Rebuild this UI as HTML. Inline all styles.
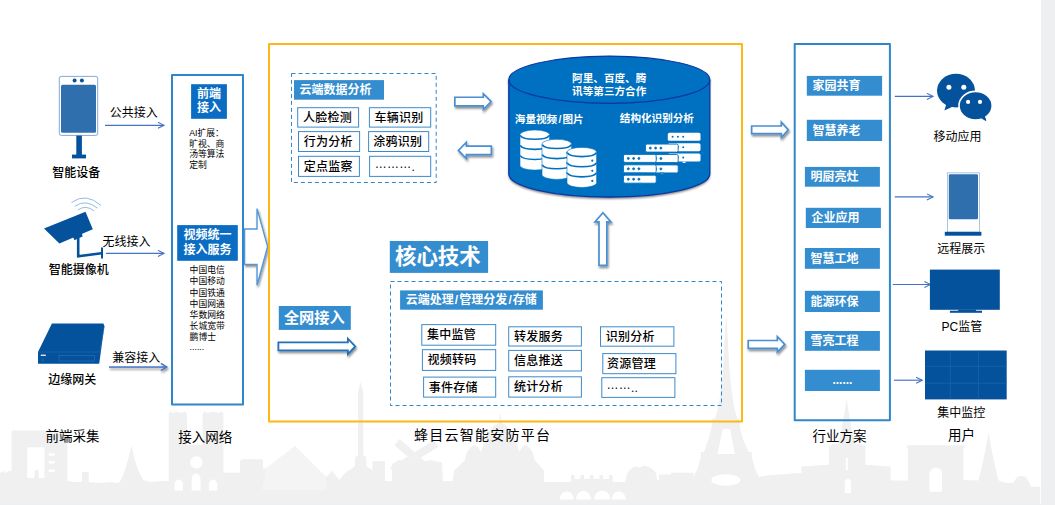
<!DOCTYPE html>
<html lang="zh-CN">
<head>
<meta charset="utf-8">
<title>蜂目云智能安防平台</title>
<style>
html,body{margin:0;padding:0;background:#eeeff1;}
body{width:1055px;height:505px;overflow:hidden;position:relative;font-family:"Liberation Sans","Noto Sans CJK SC",sans-serif;}
#slide{position:absolute;left:0;top:0;width:1041px;height:504px;background:#fff;overflow:hidden;}
svg{position:absolute;left:0;top:0;}
svg text{font-family:"Liberation Sans","Noto Sans CJK SC",sans-serif;}
.k{fill:#000;font-size:12px;font-weight:500;}
.k2{fill:#000;font-size:12px;font-weight:400;}
.cap{fill:#000;font-size:13.5px;font-weight:400;}
.w{fill:#fff;font-size:12px;font-weight:700;}
.sm{fill:#000;font-size:8.8px;font-weight:400;}
.it{fill:#000;font-size:12px;font-weight:500;letter-spacing:0.25px;}
.cy{fill:#fff;font-size:10.6px;font-weight:700;}
</style>
</head>
<body>
<div id="slide">
<svg width="1041" height="504" viewBox="0 0 1041 504">
<defs>
<filter id="sh" x="-20%" y="-30%" width="140%" height="170%">
<feGaussianBlur in="SourceAlpha" stdDeviation="1.1"/>
<feOffset dx="0.6" dy="1.6" result="o"/>
<feComponentTransfer><feFuncA type="linear" slope="0.45"/></feComponentTransfer>
<feMerge><feMergeNode/><feMergeNode in="SourceGraphic"/></feMerge>
</filter>
<marker id="ah" viewBox="0 0 10 10" refX="9" refY="5" markerWidth="7.6" markerHeight="7.6" orient="auto" markerUnits="userSpaceOnUse">
<path d="M1,1 L9,5 L1,9" fill="none" stroke="#4472c4" stroke-width="1.4"/>
</marker>
<filter id="sh2" x="-10%" y="-10%" width="120%" height="130%">
<feGaussianBlur in="SourceAlpha" stdDeviation="1.3"/>
<feOffset dx="0" dy="2" result="o"/>
<feComponentTransfer><feFuncA type="linear" slope="0.5"/></feComponentTransfer>
<feMerge><feMergeNode/><feMergeNode in="SourceGraphic"/></feMerge>
</filter>
</defs>

<!-- SKYLINE -->
<g id="skyline" fill="#f0f0f0">
<path d="M0,504 L0,473 L3,471 L6,473 L9,471 L11.6,471 L11.6,431.5 L12.6,430.6 L66.4,430.6 L67.4,431.5 L67.4,481 L75,482 L82,482 L82,472 L88.7,472 L88.7,482 L100,483 L110,482 L118,483 L121,480
L125,470 L128.5,458 L131.4,445.6 L134.3,458 L138,470 L143.3,480 L150,482 L160,481 L168.7,481
L168.7,414 L170,411.4 L173,413 L177,411.4 L181,413 L185,411.4 L187,414 L187,444.7 L202.6,444.7 L202.6,414 L204,411.4 L208,413 L213,411.4 L218,413 L222,411.4 L223.4,414 L223.4,472.8
L240,472.8 L240,460.5 L243,459.3 L262,459.3 L263,460.5 L263,468.6 L266,468.6 L295.1,445.7 L326.3,477 L332,470.7 L339.4,480 L344,474 L349,470 L352,468.6 L355,466 L355,457 L358,455.5 L358,392 L360.6,382 L363.3,392 L363.3,455.5 L366.4,457 L366.4,466 L369.5,468.6 L372.6,470
L372.6,461.3 L385,461.3 L385,481 L392,481 L392,464 L399,460 L408,462.4 L421,462.4 L430,460 L442,462.4 L443,481 L452.7,481 L454,470.7 L459,466 L465,460 L467,452 L470.5,447.5 L474.3,444.7 L478,447.5 L481,452 L483,446 L486,438 L490,430 L495,425 L499.4,422.5 L499.9,413.5 L500.7,413.5 L501.2,422.5 L505.6,425 L510.6,430 L514.6,438 L517.6,446 L519.5,452 L521.5,447.5 L525.2,444.7 L529,447.5 L532.5,452 L534.5,460 L540,466 L544,470.7 L544,482 L571,482
L571,475 L574.5,475 L574.5,479 L580.5,479 L580.5,475 L584,475 L584,479 L590,479 L590,475 L593.5,475 L593.5,479 L599.5,479 L599.5,475 L603,475 L603,479 L609,479 L609,475 L612.6,475 L612.6,482 L625,482
L627,474 L630,469.5 L635,466.5 L640,467.5 L644,465.5 L649,467 L653,469.5 L656,473 L657,480 L659,480 L659,474.5 L670.7,474.5 L670.7,472.8 L693.5,472.8 L693.5,477
L697.5,469 L700.8,457 L700.8,452 L704,452 L708.2,440 L711.2,429 L712.3,421.5 L712.3,418.7 L715,418.7 L718,408 L719.5,400 L721.5,385 L723.2,365 L724.4,343 L725.3,328 L725.7,318 L726.7,318 L727.1,328 L728,343 L729.2,365 L730.9,385 L732.9,400 L734.4,408 L737.4,418.7 L739.3,418.7 L739.3,421.5 L740.3,429 L743.3,440 L748.6,452 L751.8,452 L751.8,457 L755,469 L759,477
L770,475 L780,474.5 L792,473.5 L801.4,473 L801.4,466.5 L829,464.8 L829,446 L833,444 L838,444 L841,432 L843.2,420 L845.5,406 L846.6,398.8 L847.7,406 L850,420 L852.2,432 L855.2,444 L861,444 L865.4,446 L865.4,464.8 L890.6,466.5 L890.6,480.4 L905,480.4 L908,480.4
L908,449 L906.8,448 L906.8,445.3 L964.6,445.3 L964.6,448 L963.4,449 L963.4,480 L978.5,480.4 L982,466 L985.5,449 L988.5,432.7 L991.5,449 L995,466 L998.6,480.4 L1006,483 L1013,483 L1017,477 L1021,475.8 L1026,477 L1030,484 L1031,486.7 L1040.2,486.7 L1040.2,504 L0,504 Z"/>
<g transform="translate(414.2,457.2)"><rect x="-23" y="-4" width="46" height="8" transform="rotate(41.5)"/><rect x="-26" y="-4" width="52" height="8" transform="rotate(-32)"/></g>
</g>
<g fill="#fff">
<rect x="27.3" y="447.3" width="17.1" height="30.7"/>
<rect x="48.6" y="453.3" width="6" height="2.5"/><rect x="48.6" y="461" width="6" height="2.5"/><rect x="48.6" y="469.5" width="6" height="2.5"/>
<circle cx="196.4" cy="462.4" r="6.2"/>
<path d="M174.5,490.4 L174.5,484.5 A4.2,5 0 0 1 182.9,484.5 L182.9,490.4 Z"/>
<path d="M191.6,490.4 L191.6,479.5 A4.45,6 0 0 1 200.5,479.5 L200.5,490.4 Z"/>
<path d="M208.9,490.4 L208.9,484.5 A4.15,5 0 0 1 217.2,484.5 L217.2,490.4 Z"/>
<path d="M559.8,499.4 A7,8 0 0 1 573.8,499.4 Z"/><path d="M576,499.4 A7.5,8.5 0 0 1 591,499.4 Z"/><path d="M594.2,499.4 A8,9 0 0 1 610.2,499.4 Z"/><path d="M611.8,499.4 A7,8 0 0 1 625.8,499.4 Z"/>
<ellipse cx="725.8" cy="480" rx="14.5" ry="5.8"/>
<path d="M722.7,429 L730,429 L735,454 L717.5,454 Z"/>
<path d="M929.5,491.7 L929.5,474 A6.25,6.2 0 0 1 942,474 L942,491.7 Z"/>
<path d="M844.8,493 L844.8,482.5 A3.1,3.6 0 0 1 851,482.5 L851,493 Z"/>
<rect x="845.8" y="457.8" width="2" height="12.6"/>
</g>
<g fill="#f0f0f0"><rect x="34.5" y="470" width="4.2" height="8"/></g>
<path d="M266,468.6 L295.1,445.7 L326.3,477 L326.3,490 L262,490 Z" fill="#fff" opacity="0.25"/>
<!-- FRAMES -->
<polygon points="244.6,228.95 257.05,228.95 257.05,208.6 267.6,246.65 257.05,285.3 257.05,264.35 244.6,264.35" fill="#fff" stroke="#5496d6" stroke-width="1.4" stroke-linejoin="miter" filter="url(#sh)"/>
<rect x="269" y="44" width="473" height="377.5" fill="none" stroke="#fcb813" stroke-width="2" stroke-linejoin="round"/>
<rect x="172" y="75" width="71" height="329.5" fill="none" stroke="#2f86ca" stroke-width="2" stroke-linejoin="round"/>
<rect x="794.7" y="44" width="95.2" height="376.3" fill="none" stroke="#2f86ca" stroke-width="2" stroke-linejoin="round"/>

<!-- LEFT -->
<g id="left">
<!-- smart device -->
<rect x="59.3" y="76.4" width="38.4" height="59" rx="2" fill="#fff" stroke="#4f81c5" stroke-width="0.7"/>
<rect x="61" y="84.8" width="35" height="48" rx="1.5" fill="#2f6fae"/>
<circle cx="74.6" cy="80.6" r="2" fill="#05529c"/><circle cx="81.9" cy="80.6" r="2" fill="#05529c"/>
<rect x="76.3" y="135.6" width="5.6" height="19.4" fill="#05529c"/>
<rect x="72" y="154.6" width="14" height="3.8" fill="#05529c"/>
<text class="k" x="76.3" y="176.9" text-anchor="middle">智能设备</text>
<text class="k2" x="133.7" y="117.3" text-anchor="middle">公共接入</text>
<line x1="105" y1="125.3" x2="164" y2="125.3" stroke="#4472c4" stroke-width="1.15" marker-end="url(#ah)"/>
<!-- camera -->
<g fill="none" stroke="#7aa7d8" stroke-width="0.8">
<path d="M71.5,202.5 Q86,192 101,205.5"/>
<path d="M74.8,206.3 Q86,198.5 97.5,208.2"/>
<path d="M78,209.8 Q86,204.5 94,210.8"/>
</g>
<polygon points="44,228.6 85.5,211.8 92.8,229.2 59.4,243.5" fill="#05529c"/>
<polygon points="73,236.8 81.8,233.2 82.6,236.6 74.4,240.2" fill="#05529c"/>
<polyline points="78.2,238 78.2,256.2 101.5,253.2" fill="none" stroke="#05529c" stroke-width="2.6"/>
<line x1="102" y1="247.4" x2="102" y2="258.6" stroke="#05529c" stroke-width="2"/>
<text class="k2" x="126.5" y="246.3" text-anchor="middle">无线接入</text>
<line x1="106" y1="253.4" x2="164" y2="253.4" stroke="#4472c4" stroke-width="1.15" marker-end="url(#ah)"/>
<text class="k" x="78.8" y="274" text-anchor="middle">智能摄像机</text>
<!-- gateway -->
<polygon points="38,352 51.9,323.4 103.4,323.4 104.4,326 99.2,363.8 38,363.8" fill="#05529c"/>
<path d="M38,352 L99.6,352 L104.3,326" fill="none" stroke="#2f6fb5" stroke-width="0.5"/>
<rect x="59" y="355.4" width="35.6" height="5.6" fill="none" stroke="#3a78bd" stroke-width="0.5"/>
<rect x="40.8" y="354.6" width="5" height="1.4" fill="#dfe8f3"/>
<circle cx="42.6" cy="360" r="0.9" fill="none" stroke="#3a78bd" stroke-width="0.4"/>
<text class="k2" x="136.2" y="362.3" text-anchor="middle">兼容接入</text>
<g filter="url(#sh)"><rect x="109" y="366.3" width="57" height="1.5" fill="#4472c4"/><path d="M160.8,363.4 L166.8,367 L160.8,370.6" fill="none" stroke="#4472c4" stroke-width="1.4"/></g>
<text class="k" x="72.2" y="384" text-anchor="middle">边缘网关</text>
<text class="cap" x="72.5" y="440.5" text-anchor="middle">前端采集</text>
</g>
<!-- ACCESS -->
<g id="access">
<rect x="191.1" y="84.2" width="35.8" height="34.6" fill="#0a6dc3"/>
<text class="w" x="209" y="98" text-anchor="middle">前端</text>
<text class="w" x="209" y="112.4" text-anchor="middle">接入</text>
<text class="sm" x="189.2" y="135.8">AI扩展：</text>
<text class="sm" x="189.2" y="146.5">旷视、商</text>
<text class="sm" x="189.2" y="157.2">汤等算法</text>
<text class="sm" x="189.2" y="167.9">定制</text>
<rect x="177.2" y="225.1" width="60.6" height="35.7" fill="#0a6dc3"/>
<text class="w" x="207.4" y="239.3" text-anchor="middle">视频统一</text>
<text class="w" x="207.4" y="254.3" text-anchor="middle">接入服务</text>
<text class="sm" x="189.6" y="273.3">中国电信</text>
<text class="sm" x="189.6" y="284.4">中国移动</text>
<text class="sm" x="189.6" y="295.5">中国铁通</text>
<text class="sm" x="189.6" y="306.6">中国网通</text>
<text class="sm" x="189.6" y="317.7">华数网络</text>
<text class="sm" x="189.6" y="328.8">长城宽带</text>
<text class="sm" x="189.6" y="339.9">鹏博士</text>
<text class="sm" x="189.6" y="350">......</text>
<text class="cap" x="205.3" y="441.5" text-anchor="middle">接入网络</text>
</g>
<!-- CLOUD -->
<g id="cloud">
<rect x="291.5" y="73.5" width="144.7" height="109" fill="none" stroke="#2f86ca" stroke-width="1" stroke-dasharray="4 3"/>
<rect x="294" y="80.1" width="90" height="19.6" fill="#348dcf"/>
<text class="w" x="299.6" y="94.2">云端数据分析</text>
<rect x="297.7" y="107.7" width="60.9" height="19.4" fill="#fff" stroke="#3d8acb" stroke-width="1"/><text class="it" x="302.9" y="121.8">人脸检测</text>
<rect x="369.4" y="107.7" width="61.3" height="19.4" fill="#fff" stroke="#3d8acb" stroke-width="1"/><text class="it" x="374.6" y="121.8">车辆识别</text>
<rect x="298.5" y="131.6" width="61.1" height="19.9" fill="#fff" stroke="#3d8acb" stroke-width="1"/><text class="it" x="303.7" y="145.9">行为分析</text>
<rect x="368.6" y="131.6" width="60.1" height="19.9" fill="#fff" stroke="#3d8acb" stroke-width="1"/><text class="it" x="373.2" y="145.9">涂鸦识别</text>
<rect x="298.5" y="156.3" width="60.9" height="20.1" fill="#fff" stroke="#3d8acb" stroke-width="1"/><text class="it" x="303.7" y="170.8">定点监察</text>
<rect x="369.6" y="156.3" width="61.1" height="20.1" fill="#fff" stroke="#3d8acb" stroke-width="1"/><text class="it" x="374.8" y="170.8"><tspan dy="-3.2">………</tspan><tspan dy="3.2">.</tspan></text>
<polygon points="454.85,97.25 483.35,97.25 483.35,93.71 491.11,101.60 483.35,109.48 483.35,105.95 454.85,105.95" fill="#fff" stroke="#4a8fd3" stroke-width="1.7" filter="url(#sh)"/>
<polygon points="491.35,146.10 466.35,146.10 466.35,142.31 458.39,150.40 466.35,158.49 466.35,154.70 491.35,154.70" fill="#fff" stroke="#4a8fd3" stroke-width="1.7" filter="url(#sh)"/>
<g filter="url(#sh2)">
<path d="M508.8,79.7 L508.8,174 A100.5,23 0 0 0 709.8,174 L709.8,79.7 Z" fill="#0070c0"/>
<ellipse cx="609.3" cy="79.7" rx="100.5" ry="23.6" fill="#0070c0" stroke="#0b37a4" stroke-width="1.2"/>
</g>
<path d="M508.8,79.7 L508.8,174 A100.5,23 0 0 0 709.8,174 L709.8,79.7" fill="none" stroke="#0b37a4" stroke-width="1.3"/>
<text class="cy" x="609.2" y="82" text-anchor="middle">阿里、百度、腾</text>
<text class="cy" x="609.2" y="94.6" text-anchor="middle">讯等第三方合作</text>
<text class="cy" x="514.8" y="123.4">海量视频<tspan dx="1.2">/</tspan><tspan dx="1.2">图片</tspan></text>
<text class="cy" x="619.8" y="122.4">结构化识别分析</text>
<g><path d="M520.0,134.7 A14.8,4.7 0 0 1 549.6,134.7 L549.6,165.4 A14.8,4.7 0 0 1 520.0,165.4 Z" fill="#fff" stroke="#0070c0" stroke-width="0.6"/><path d="M520.2,135.3 A14.8,4.7 0 0 0 549.4,135.3" fill="none" stroke="#0070c0" stroke-width="1.6"/><path d="M520.2,145.4 A14.8,4.7 0 0 0 549.4,145.4" fill="none" stroke="#0070c0" stroke-width="1.6"/><path d="M520.2,155.5 A14.8,4.7 0 0 0 549.4,155.5" fill="none" stroke="#0070c0" stroke-width="1.6"/><circle cx="545.3" cy="143.3" r="1.1" fill="#0070c0"/><circle cx="545.3" cy="153.4" r="1.1" fill="#0070c0"/><circle cx="545.3" cy="163.5" r="1.1" fill="#0070c0"/></g>
<g><path d="M542.0,144.0 A14.8,4.7 0 0 1 571.6,144.0 L571.6,174.7 A14.8,4.7 0 0 1 542.0,174.7 Z" fill="#fff" stroke="#0070c0" stroke-width="0.6"/><path d="M542.2,144.6 A14.8,4.7 0 0 0 571.4,144.6" fill="none" stroke="#0070c0" stroke-width="1.6"/><path d="M542.2,154.7 A14.8,4.7 0 0 0 571.4,154.7" fill="none" stroke="#0070c0" stroke-width="1.6"/><path d="M542.2,164.8 A14.8,4.7 0 0 0 571.4,164.8" fill="none" stroke="#0070c0" stroke-width="1.6"/><circle cx="567.3" cy="152.6" r="1.1" fill="#0070c0"/><circle cx="567.3" cy="162.7" r="1.1" fill="#0070c0"/><circle cx="567.3" cy="172.8" r="1.1" fill="#0070c0"/></g>
<g><path d="M567.0,152.1 A14.8,4.7 0 0 1 596.6,152.1 L596.6,182.8 A14.8,4.7 0 0 1 567.0,182.8 Z" fill="#fff" stroke="#0070c0" stroke-width="0.6"/><path d="M567.2,152.7 A14.8,4.7 0 0 0 596.4,152.7" fill="none" stroke="#0070c0" stroke-width="1.6"/><path d="M567.2,162.8 A14.8,4.7 0 0 0 596.4,162.8" fill="none" stroke="#0070c0" stroke-width="1.6"/><path d="M567.2,172.9 A14.8,4.7 0 0 0 596.4,172.9" fill="none" stroke="#0070c0" stroke-width="1.6"/><circle cx="592.3" cy="160.7" r="1.1" fill="#0070c0"/><circle cx="592.3" cy="170.8" r="1.1" fill="#0070c0"/><circle cx="592.3" cy="180.9" r="1.1" fill="#0070c0"/></g>
<rect x="667.8" y="132.8" width="32.7" height="8" rx="1.6" fill="#fff"/><circle cx="672.6" cy="136.8" r="1" fill="#0070c0"/><circle cx="677.9" cy="136.8" r="1" fill="#0070c0"/><circle cx="683.2" cy="136.8" r="1" fill="#0070c0"/><rect x="667.8" y="143.20000000000002" width="32.7" height="8" rx="1.6" fill="#fff"/><circle cx="672.6" cy="147.2" r="1" fill="#0070c0"/><circle cx="677.9" cy="147.2" r="1" fill="#0070c0"/><circle cx="683.2" cy="147.2" r="1" fill="#0070c0"/><rect x="667.8" y="153.60000000000002" width="32.7" height="8" rx="1.6" fill="#fff"/><circle cx="672.6" cy="157.6" r="1" fill="#0070c0"/><circle cx="677.9" cy="157.6" r="1" fill="#0070c0"/><circle cx="683.2" cy="157.6" r="1" fill="#0070c0"/><rect x="682.6" y="161.7" width="3" height="1.2" fill="#fff"/>
<g stroke="#0070c0" stroke-width="0.9"><rect x="645.5" y="144.1" width="32.7" height="8" rx="1.6" fill="#fff"/><circle cx="650.3" cy="148.1" r="1" fill="#0070c0"/><circle cx="655.6" cy="148.1" r="1" fill="#0070c0"/><circle cx="660.9" cy="148.1" r="1" fill="#0070c0"/><rect x="645.5" y="154.5" width="32.7" height="8" rx="1.6" fill="#fff"/><circle cx="650.3" cy="158.5" r="1" fill="#0070c0"/><circle cx="655.6" cy="158.5" r="1" fill="#0070c0"/><circle cx="660.9" cy="158.5" r="1" fill="#0070c0"/><rect x="645.5" y="164.9" width="32.7" height="8" rx="1.6" fill="#fff"/><circle cx="650.3" cy="168.9" r="1" fill="#0070c0"/><circle cx="655.6" cy="168.9" r="1" fill="#0070c0"/><circle cx="660.9" cy="168.9" r="1" fill="#0070c0"/><rect x="660.3" y="173.0" width="3" height="1.2" fill="#fff"/>
</g><g stroke="#0070c0" stroke-width="0.9"><rect x="623.5" y="154.4" width="32.7" height="8" rx="1.6" fill="#fff"/><circle cx="628.3" cy="158.4" r="1" fill="#0070c0"/><circle cx="633.6" cy="158.4" r="1" fill="#0070c0"/><circle cx="638.9" cy="158.4" r="1" fill="#0070c0"/><rect x="623.5" y="164.8" width="32.7" height="8" rx="1.6" fill="#fff"/><circle cx="628.3" cy="168.8" r="1" fill="#0070c0"/><circle cx="633.6" cy="168.8" r="1" fill="#0070c0"/><circle cx="638.9" cy="168.8" r="1" fill="#0070c0"/><rect x="623.5" y="175.20000000000002" width="32.7" height="8" rx="1.6" fill="#fff"/><circle cx="628.3" cy="179.2" r="1" fill="#0070c0"/><circle cx="633.6" cy="179.2" r="1" fill="#0070c0"/><circle cx="638.9" cy="179.2" r="1" fill="#0070c0"/><rect x="638.3" y="183.3" width="3" height="1.2" fill="#fff"/>
</g></g>
<!-- CORE -->
<g id="core">
<rect x="389.8" y="241" width="98.3" height="31.9" fill="#348dcf"/>
<text x="395" y="264.3" fill="#fff" font-size="21.4" font-weight="700">核心技术</text>
<polygon points="602.90,212.79 610.83,221.95 606.80,221.95 606.80,265.35 599.00,265.35 599.00,221.95 594.97,221.95" fill="#fff" stroke="#4a8fd3" stroke-width="1.7" filter="url(#sh)"/>
<rect x="390.5" y="281.5" width="331" height="124" fill="none" stroke="#2f86ca" stroke-width="1" stroke-dasharray="4 3"/>
<rect x="400.1" y="290.4" width="142.8" height="19.3" fill="#348dcf"/>
<text class="w" x="405.7" y="304.3">云端处理<tspan dx="1.1">/</tspan><tspan dx="1.1">管理分发</tspan><tspan dx="1.1">/</tspan><tspan dx="1.1">存储</tspan></text>
<rect x="421.8" y="324.6" width="73.9" height="20.6" fill="#fff" stroke="#3d8acb" stroke-width="1"/><text class="it" x="427.0" y="339.3">集中监管</text>
<rect x="422.4" y="349.7" width="73.3" height="20.7" fill="#fff" stroke="#3d8acb" stroke-width="1"/><text class="it" x="427.6" y="364.4">视频转码</text>
<rect x="423.6" y="377.1" width="72.1" height="20.0" fill="#fff" stroke="#3d8acb" stroke-width="1"/><text class="it" x="428.8" y="391.5">事件存储</text>
<rect x="508.7" y="326.8" width="72.7" height="19.2" fill="#fff" stroke="#3d8acb" stroke-width="1"/><text class="it" x="513.9" y="340.8">转发服务</text>
<rect x="508.7" y="350.4" width="72.7" height="20.6" fill="#fff" stroke="#3d8acb" stroke-width="1"/><text class="it" x="513.9" y="365.1">信息推送</text>
<rect x="508.7" y="376.8" width="72.7" height="20.3" fill="#fff" stroke="#3d8acb" stroke-width="1"/><text class="it" x="513.9" y="391.3">统计分析</text>
<rect x="600.5" y="326.8" width="73.4" height="19.4" fill="#fff" stroke="#3d8acb" stroke-width="1"/><text class="it" x="605.7" y="340.9">识别分析</text>
<rect x="602.8" y="353.6" width="73.1" height="20.1" fill="#fff" stroke="#3d8acb" stroke-width="1"/><text class="it" x="607.0" y="368.1">资源管理</text>
<rect x="601.8" y="377.7" width="73.1" height="19.7" fill="#fff" stroke="#3d8acb" stroke-width="1"/><text class="it" x="606.5" y="392"><tspan dy="-3.2">……</tspan><tspan dy="3.2">..</tspan></text>
<rect x="278.8" y="306" width="72" height="23.9" fill="#348dcf"/>
<text x="283.9" y="323.3" fill="#fff" font-size="15.2" font-weight="700">全网接入</text>
<polygon points="278.40,342.45 347.90,342.45 347.90,338.66 355.24,346.45 347.90,354.24 347.90,350.45 278.40,350.45" fill="#fff" stroke="#2272ba" stroke-width="1.8" filter="url(#sh)"/>
<text x="414" y="439.8" fill="#000" font-size="14" font-weight="400" letter-spacing="1.25">蜂目云智能安防平台</text>
</g>
<!-- INDUSTRY -->
<g id="industry">
<rect x="806.8" y="75.9" width="75.3" height="19.8" fill="#348dcf"/><text class="w" x="812.4" y="90.2">家园共育</text>
<rect x="806.8" y="119.8" width="75.3" height="21.2" fill="#348dcf"/><text class="w" x="812.4" y="134.8">智慧养老</text>
<rect x="804.9" y="166.9" width="75" height="19.8" fill="#348dcf"/><text class="w" x="810.5" y="181.2">明厨亮灶</text>
<rect x="805.8" y="207.8" width="75.1" height="20.2" fill="#348dcf"/><text class="w" x="811.4" y="222.3">企业应用</text>
<rect x="804.9" y="248" width="75" height="20.8" fill="#348dcf"/><text class="w" x="810.5" y="262.8">智慧工地</text>
<rect x="804.9" y="290.8" width="75" height="21.2" fill="#348dcf"/><text class="w" x="810.5" y="305.8">能源环保</text>
<rect x="804.9" y="331" width="75" height="19.8" fill="#348dcf"/><text class="w" x="810.5" y="345.3">雪亮工程</text>
<rect x="804.9" y="369.8" width="75" height="21.2" fill="#348dcf"/><text class="w" x="842.4" y="384.4" text-anchor="middle" font-size="10">......</text>
<polygon points="751.65,126.00 781.35,126.00 781.35,122.16 788.21,129.85 781.35,137.53 781.35,133.70 751.65,133.70" fill="#fff" stroke="#4a8fd3" stroke-width="1.7" filter="url(#sh)"/>
<polygon points="748.25,340.50 777.35,340.50 777.35,336.71 784.81,344.40 777.35,352.08 777.35,348.30 748.25,348.30" fill="#fff" stroke="#4a8fd3" stroke-width="1.7" filter="url(#sh)"/>
<text class="cap" x="839.4" y="441.3" text-anchor="middle">行业方案</text>
</g>
<!-- USERS -->
<g id="users">
<line x1="894.8" y1="96.4" x2="933" y2="96.4" stroke="#4472c4" stroke-width="1.15" marker-end="url(#ah)"/>
<line x1="894.8" y1="196.9" x2="933" y2="196.9" stroke="#4472c4" stroke-width="1.15" marker-end="url(#ah)"/>
<line x1="892.8" y1="284.5" x2="930.5" y2="284.5" stroke="#4472c4" stroke-width="1.15" marker-end="url(#ah)"/>
<line x1="893.9" y1="380.2" x2="922.2" y2="380.2" stroke="#4472c4" stroke-width="1.15" marker-end="url(#ah)"/>
<g fill="#05529c">
<path d="M944.4,110.6 L946.8,102.5 L953,106.5 Z"/>
<ellipse cx="956" cy="90.6" rx="19" ry="16.8"/>
<path d="M986.2,121 L979.5,117.6 L985,114.5 Z"/>
<ellipse cx="975.6" cy="105.7" rx="16.6" ry="14.3" stroke="#fff" stroke-width="1.6"/>
<path d="M986.2,121 L980,117.4 L984.6,115 Z"/>
</g>
<circle cx="948.9" cy="87.2" r="2.5" fill="#fff"/><circle cx="963.8" cy="87.2" r="2.5" fill="#fff"/>
<circle cx="968.1" cy="101.9" r="2.1" fill="#fff"/><circle cx="980" cy="101.9" r="2.1" fill="#fff"/>
<text class="k2" x="957.6" y="141" text-anchor="middle">移动应用</text>
<rect x="947.4" y="172.9" width="32.2" height="59.2" fill="#fff" stroke="#5b87c8" stroke-width="0.5"/>
<rect x="948.8" y="174.3" width="29.2" height="45" rx="1.2" fill="#2f6fae"/>
<rect x="944.8" y="231.8" width="36.6" height="3.9" fill="#05529c"/>
<text class="k2" x="961.2" y="252.8" text-anchor="middle">远程展示</text>
<rect x="929.9" y="269.6" width="69.9" height="40.2" fill="#05529c"/>
<rect x="958.2" y="309.5" width="17.8" height="2" fill="#05529c"/>
<rect x="949.9" y="310.7" width="32.1" height="2.1" fill="#05529c"/>
<text class="k2" x="961.9" y="330.8" text-anchor="middle">PC监管</text>
<rect x="925" y="350.5" width="81.7" height="48.9" fill="#05529c"/>
<g stroke="#2a6cb0" stroke-width="0.5"><line x1="950.3" y1="350.5" x2="950.3" y2="399.4"/><line x1="978.4" y1="350.5" x2="978.4" y2="399.4"/><line x1="925" y1="366.3" x2="1006.7" y2="366.3"/><line x1="925" y1="383.2" x2="1006.7" y2="383.2"/></g>
<text class="k2" x="961.3" y="417" text-anchor="middle">集中监控</text>
<text class="cap" x="961.5" y="439.8" text-anchor="middle">用户</text>
</g>
</svg>
</div>
</body>
</html>
